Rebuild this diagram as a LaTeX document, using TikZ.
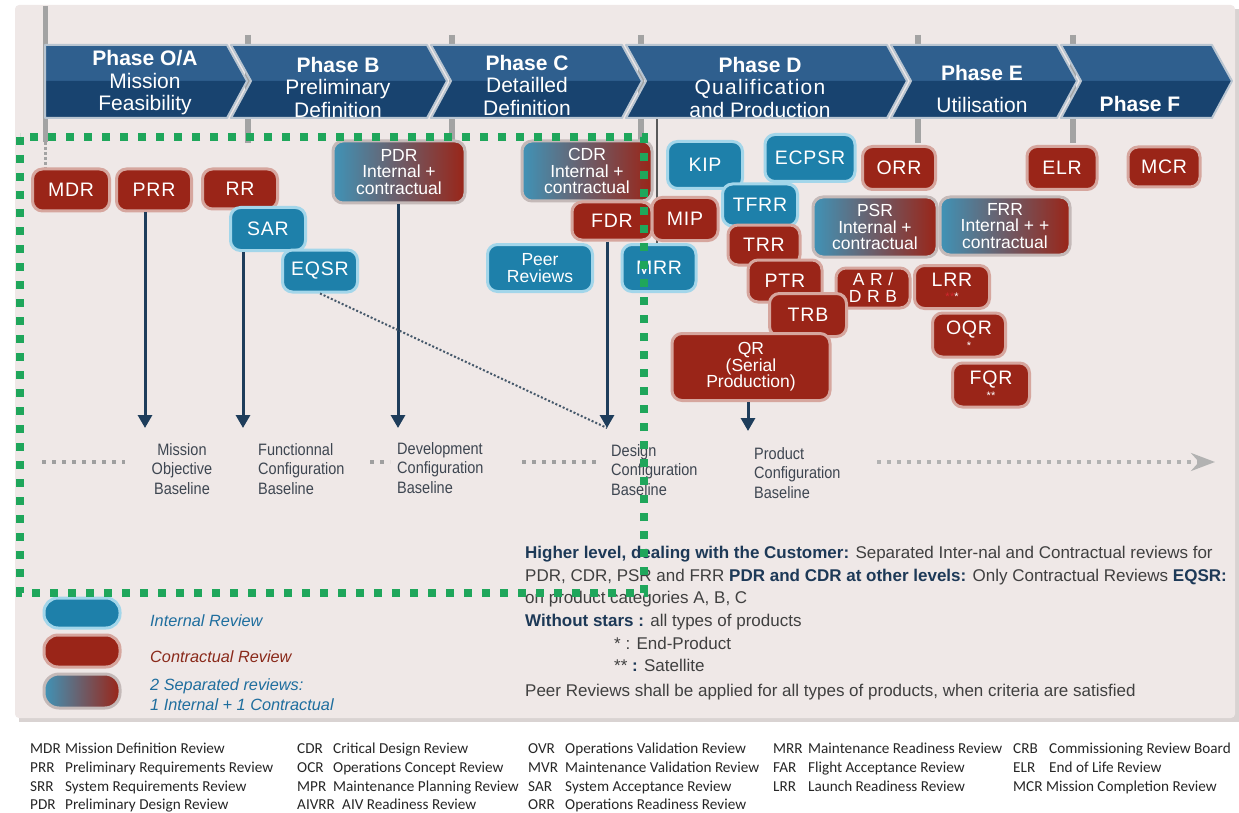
\documentclass[tikz,border=0pt]{standalone}
\usepackage{fontspec}
\setmainfont{Liberation Sans}
\newfontfamily\narrowsf[FakeStretch=0.88]{Liberation Sans}
\newfontfamily\boxfont[LetterSpace=4]{Liberation Sans}
\newfontfamily\glossfont{Carlito}
\usetikzlibrary{arrows.meta}

\definecolor{panelbg}{HTML}{EFE8E7}
\definecolor{panelshadow}{HTML}{D9D3D2}
\definecolor{contrred}{HTML}{9A2518}
\definecolor{contrhalo}{HTML}{D6A69E}
\definecolor{internblue}{HTML}{1E80AA}
\definecolor{internhalo}{HTML}{A3D6EA}
\definecolor{bothhalo}{HTML}{C4B9B8}
\definecolor{phasetop}{HTML}{2F5F8E}
\definecolor{phasebot}{HTML}{18436F}
\definecolor{phasesep}{HTML}{B9C5D1}
\definecolor{poleg}{HTML}{A3A3A3}
\definecolor{navy}{HTML}{1E3D5B}
\definecolor{basetext}{HTML}{3E4651}
\definecolor{greenbox}{HTML}{1FA65B}
\definecolor{bodytext}{HTML}{404040}
\definecolor{boldtext}{HTML}{1D3957}
\definecolor{legblue}{HTML}{1F6E9E}
\definecolor{legred}{HTML}{8A2A1B}
\definecolor{starred}{HTML}{D3262E}

\tikzset{
  review/.style={
    % The shape:
    shape=rectangle, rounded corners=10pt,
    % The border: a pale halo round the fill
    line width=3pt,
    % The text:
    text=white, align=center, inner sep=0pt,
    font=\boxfont\fontsize{19.5}{19.5}\selectfont
  },
  contr/.style={review, fill=contrred, draw=contrhalo},
  intern/.style={review, fill=internblue, draw=internhalo},
  twofold/.style={review, left color=internblue!85!white, right color=contrred,
    draw=bothhalo, font=\rmfamily\fontsize{17.5}{16.5}\selectfont},
  phasetxt/.style={text=white, align=center, inner sep=0pt,
    font=\fontsize{21}{22.5}\selectfont},
  basetag/.style={text=basetext, inner sep=0pt,
    font=\narrowsf\fontsize{16.5}{19.5}\selectfont},
  tobase/.style={navy, line width=3pt, -{Triangle[width=14pt,length=13pt]}},
  chevron/.style={draw=phasesep, line width=2pt, line join=round},
  note/.style={anchor=base west, inner sep=0pt, text=bodytext,
    font=\fontsize{17}{17}\selectfont},
  legtxt/.style={anchor=base west, inner sep=0pt,
    font=\itshape\fontsize{16.3}{16.3}\selectfont},
  gloss/.style={anchor=base west, inner sep=0pt, text=black!85,
    font=\glossfont\fontsize{15.2}{15.2}\selectfont},
}

\begin{document}
\begin{tikzpicture}[x=1pt,y=-1pt]
\useasboundingbox (0,0) rectangle (1239,813);
% panel
\fill[panelshadow] (19,9) rectangle (1239,722);
\fill[panelbg, rounded corners=4pt] (15,5) rectangle (1235,718);

% poles
\draw[poleg, line width=5pt] (45,6) -- (45,142);
\draw[poleg, line width=3pt, dotted] (45,142) -- (45,168);
\foreach \px in {248,452,641,918,1073}
  \draw[poleg, line width=6pt] (\px,35) -- (\px,143);
\draw[gray!70!black, line width=1.5pt] (657,118) -- (657,250);

% phase band
\foreach \xa/\xb/\nd in {45/247/0,231/447/20,431/642/20,626/907/20,891/1077/20,1061/1232/20}{
  \fill[phasetop] (\xa,45) -- ({\xb-20},45) -- (\xb,81) -- ({\xa+\nd},81) -- cycle;
  \fill[phasebot] ({\xa+\nd},81) -- (\xb,81) -- ({\xb-20},118) -- (\xa,118) -- cycle;
  \draw[chevron] (\xa,45) -- ({\xb-20},45) -- (\xb,81) -- ({\xb-20},118)
    -- (\xa,118) -- ({\xa+\nd},81) -- cycle;
}
\node[phasetxt] (poa) at (145,83) {\textbf{Phase O/A}\\Mission\\Feasibility};
\node[phasetxt] (pb) at (338,87) {\textbf{Phase B}\\Preliminary\\Definition};
\node[phasetxt] (pc) at (527,85) {\textbf{Phase C}\\Detailled\\Definition};
\node[phasetxt] (pd) at (760,87) {\textbf{Phase D}\\{\addfontfeature{LetterSpace=6}Qualification}\\and Production};
\node[phasetxt] (pe) at (982,89) {\textbf{Phase E}\\[10pt]Utilisation};
\node[phasetxt, font=\bfseries\fontsize{21}{22}\selectfont] (pf) at (1140,104) {Phase F};

% reviews
\node[contr, minimum width=77pt, minimum height=42pt] (mdr) at (71,190) {MDR};
\node[contr, minimum width=75pt, minimum height=42pt] (prr) at (154,190) {PRR};
\node[contr, minimum width=75pt, minimum height=40pt] (rr) at (240,189) {RR};
\node[intern, minimum width=75pt, minimum height=43pt] (sar) at (268,229) {SAR};
\node[intern, minimum width=75pt, minimum height=42pt] (eqsr) at (320,271) {EQSR};
\node[twofold, minimum width=132pt, minimum height=62pt] (pdr) at (399,172) {PDR\\Internal +\\contractual};
\node[twofold, minimum width=130pt, minimum height=60pt] (cdr) at (587,171) {CDR\\Internal +\\contractual};
\node[contr, minimum width=80pt, minimum height=38pt] (fdr) at (612,221) {FDR};
\node[intern, minimum width=105pt, minimum height=47pt, font=\rmfamily\fontsize{17.5}{16.5}\selectfont] (peer) at (540,268) {Peer\\Reviews};
\node[intern, minimum width=74pt, minimum height=47pt] (mrr) at (659,268) {MRR};
\node[intern, minimum width=75pt, minimum height=47pt] (kip) at (705,165) {KIP};
\node[intern, minimum width=90pt, minimum height=47pt] (ecpsr) at (810,158) {ECPSR};
\node[contr, minimum width=73pt, minimum height=43pt] (orr) at (899,168) {ORR};
\node[contr, minimum width=66pt, minimum height=43pt] (mip) at (685,219) {MIP};
\node[intern, minimum width=75pt, minimum height=42pt] (tfrr) at (760,205) {TFRR};
\node[contr, minimum width=72pt, minimum height=40pt] (trr) at (764,245) {TRR};
\node[twofold, minimum width=124pt, minimum height=60pt] (psr) at (875,227) {PSR\\Internal +\\contractual};
\node[twofold, minimum width=130pt, minimum height=58pt] (frr) at (1005,226) {FRR\\Internal + +\\contractual};
\node[contr, minimum width=70pt, minimum height=43pt] (elr) at (1062,168) {ELR};
\node[contr, minimum width=72pt, minimum height=40pt] (mcr) at (1164,167) {MCR};
\node[contr, minimum width=74pt, minimum height=42pt] (ptr) at (785,281) {PTR};
\node[contr, minimum width=74pt, minimum height=40pt, font=\boxfont\fontsize{17.5}{17}\selectfont] (ardrb) at (873,288) {A R /\\D R B};
\node[contr, minimum width=75pt, minimum height=43pt] (lrr) at (952,287) {LRR\\[-5pt]{\fontsize{11}{11}\selectfont\textcolor{starred}{**}*}};
\node[contr, minimum width=77pt, minimum height=43pt] (trb) at (808,315) {TRB};
\node[contr, minimum width=73pt, minimum height=44pt] (oqr) at (969,335) {OQR\\[-5pt]{\fontsize{11}{11}\selectfont *}};
\node[contr, minimum width=77pt, minimum height=44pt] (fqr) at (991,385) {FQR\\[-5pt]{\fontsize{11}{11}\selectfont **}};
\node[contr, minimum width=158pt, minimum height=67pt, font=\rmfamily\fontsize{17.5}{16.5}\selectfont] (qr) at (751,367) {QR\\(Serial\\Production)};

% baselines
\node[basetag, align=center] (bmission) at (182,469) {Mission\\Objective\\Baseline};
\node[basetag, align=left, anchor=west] (bfunc) at (258,469) {Functionnal\\Configuration\\Baseline};
\node[basetag, align=left, anchor=west] (bdev) at (397,468) {Development\\Configuration\\Baseline};
\node[basetag, align=left, anchor=west] (bdesign) at (611,470) {Design\\Configuration\\Baseline};
\node[basetag, align=left, anchor=west] (bprod) at (754,473) {Product\\Configuration\\Baseline};

\coordinate (endprr) at (145,428);
\coordinate (endsar) at (243,428);
\coordinate (endpdr) at (398,428);
\coordinate (endfdr) at (607,428);
\coordinate (endqr) at (748,431);
\draw[tobase] (prr.south -| endprr) -- (endprr);
\draw[tobase] (sar.south -| endsar) -- (endsar);
\draw[tobase] (pdr.south -| endpdr) -- (endpdr);
\draw[tobase] (fdr.south -| endfdr) -- (endfdr);
\draw[tobase] (qr.south -| endqr) -- (endqr);
\draw[navy!60!gray, line width=2pt, dotted] (eqsr.south) -- (endfdr);

% time line
\begin{scope}[gray!75, line width=3.5pt, dash pattern=on 4pt off 6pt]
  \draw (42,462) -- (125,462);
  \draw (370,462) -- (390,462);
  \draw (522,462) -- (597,462);
  \draw[-{Stealth[length=24pt,width=18pt,inset=8pt]}, gray!60] (877,462) -- (1215,462);
\end{scope}

% notes
\node[note] (n1) at (525,558) {\textcolor{boldtext}{\bfseries Higher level, dealing with the Customer:} Separated Inter-nal and Contractual reviews for};
\node[note] (n2) at (525,581) {PDR, CDR, PSR and FRR \textcolor{boldtext}{\bfseries PDR and CDR at other levels:} Only Contractual Reviews \textcolor{boldtext}{\bfseries EQSR:}};
\node[note] (n3) at (525,603) {on product categories A, B, C};
\node[note] (n4) at (525,626) {\textcolor{boldtext}{\bfseries Without stars :} all types of products};
\node[note] (n5) at (614,649) {* : End-Product};
\node[note] (n6) at (614,671) {** \textcolor{boldtext}{\bfseries :} Satellite};
\node[note] (n7) at (525,696) {Peer Reviews shall be applied for all types of products, when criteria are satisfied};

% legend
\node[intern, minimum width=76pt, minimum height=30pt, rounded corners=14pt] (legint) at (82,613) {};
\node[contr, minimum width=76pt, minimum height=32pt, rounded corners=14pt] (legcon) at (82,651) {};
\node[twofold, minimum width=76pt, minimum height=34pt, rounded corners=15pt] (legtwo) at (82,691) {};
\node[legtxt, text=legblue] (legintt) at (150,626) {Internal Review};
\node[legtxt, text=legred] (legcont) at (150,662) {Contractual Review};
\node[legtxt, text=legblue] (legtwot) at (150,690) {2 Separated reviews:};
\node[legtxt, text=legblue] (legtwou) at (150,710) {1 Internal + 1 Contractual};

% focus frame
\draw[greenbox, line width=8pt, dash pattern=on 8pt off 10pt] (20,137) rectangle (644,593);

% glossary
\foreach \ax/\dx/\gy/\gab/\gdesc in {
  30/65/753/MDR/Mission Definition Review,
  30/65/772/PRR/Preliminary Requirements Review,
  30/65/791/SRR/System Requirements Review,
  30/65/809/PDR/Preliminary Design Review,
  297/333/753/CDR/Critical Design Review,
  297/333/772/OCR/Operations Concept Review,
  297/333/791/MPR/Maintenance Planning Review,
  297/342/809/AIVRR/AIV Readiness Review,
  528/565/753/OVR/Operations Validation Review,
  528/565/772/MVR/Maintenance Validation Review,
  528/565/791/SAR/System Acceptance Review,
  528/565/809/ORR/Operations Readiness Review,
  773/808/753/MRR/Maintenance Readiness Review,
  773/808/772/FAR/Flight Acceptance Review,
  773/808/791/LRR/Launch Readiness Review,
  1013/1049/753/CRB/Commissioning Review Board,
  1013/1049/772/ELR/End of Life Review,
  1013/1046/791/MCR/Mission Completion Review}{
  \node[gloss] (ab-\gab-\ax) at (\ax,\gy) {\gab};
  \node[gloss] (de-\gab-\ax) at (\dx,\gy) {\gdesc};
}
\end{tikzpicture}
\end{document}
